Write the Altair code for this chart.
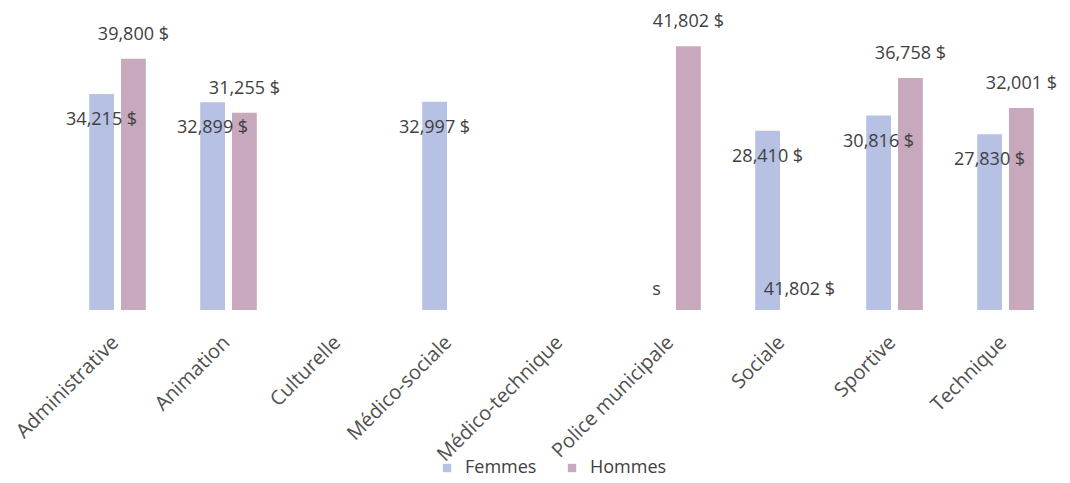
import altair as alt
import pandas as pd

categories = ["Administrative", "Animation", "Culturelle", "Médico-sociale",
              "Médico-technique", "Police municipale", "Sociale", "Sportive", "Technique"]
femmes = [34215, 32899, None, 32997, None, None, 28410, 30816, 27830]
hommes = [39800, 31255, None, None, None, 41802, None, 36758, 32001]
series = ["Femmes", "Hommes"]
colors = ["#b7c1e4", "#c8a8bc"]

# stray labels printed near the baseline where no bar exists
stray_categories = ["Police municipale", "Sociale"]
stray_series = ["Femmes", "Hommes"]
stray_labels = ["s", "41,802 $"]

rows = []
for c, f, h in zip(categories, femmes, hommes):
    if f is not None:
        rows.append({"cat": c, "serie": "Femmes", "value": f})
    if h is not None:
        rows.append({"cat": c, "serie": "Hommes", "value": h})
df = pd.DataFrame(rows)
df["label"] = df["value"].map(lambda v: f"{v:,.0f} $")

stray = pd.DataFrame({"cat": stray_categories, "serie": stray_series,
                      "label": stray_labels, "value": [0, 0]})

FONT = "Open Sans"
TXT = "#404040"

x = alt.X("cat:N", sort=categories,
          scale=alt.Scale(domain=categories, paddingInner=0.49, paddingOuter=0.245),
          axis=alt.Axis(title=None, labelAngle=-45, domain=False, ticks=False,
                        labelPadding=22, labelFontSize=20, labelColor="#505050",
                        labelFont=FONT, labelAlign="right", labelBaseline="top",
                        labelOffset=-9))
xo = alt.XOffset("serie:N", scale=alt.Scale(domain=series, paddingInner=0.22, paddingOuter=0))
y = alt.Y("value:Q", scale=alt.Scale(domain=[0, 45000], nice=False), axis=None)

bars = alt.Chart(df).mark_bar().encode(
    x=x, xOffset=xo, y=y,
    color=alt.Color("serie:N", scale=alt.Scale(domain=series, range=colors),
                    legend=alt.Legend(title=None, orient="none", direction="horizontal",
                                      legendX=376, legendY=433, symbolType="square",
                                      symbolSize=70, labelFontSize=18, labelFont=FONT,
                                      labelColor=TXT, labelOffset=9, columnPadding=26,
                                      symbolStrokeWidth=0))
)

txt_f = alt.Chart(df).transform_filter(alt.datum.serie == "Femmes").mark_text(
    dy=26, fontSize=18, font=FONT, color=TXT
).encode(x=x, xOffset=xo, y=y, text="label:N")

txt_h = alt.Chart(df).transform_filter(alt.datum.serie == "Hommes").mark_text(
    dy=-24, fontSize=18, font=FONT, color=TXT
).encode(x=x, xOffset=xo, y=y, text="label:N")

txt_s = alt.Chart(stray).mark_text(
    dy=-20, fontSize=18, font=FONT, color=TXT
).encode(x=x, xOffset=xo, y=y, text="label:N")

chart = alt.layer(bars, txt_f, txt_h, txt_s).properties(
    width=999, height=284,
    autosize=alt.AutoSizeParams(type="none"),
    padding={"left": 54, "top": 18, "right": 0, "bottom": 168},
    background="white",
).configure_view(stroke=None)

chart.save("out.html", embed_options={"renderer": "svg", "actions": False})
